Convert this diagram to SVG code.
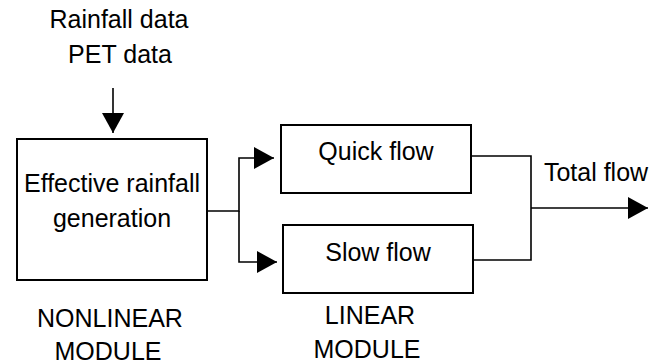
<svg xmlns="http://www.w3.org/2000/svg" width="661" height="364" viewBox="0 0 661 364">
  <defs>
    <marker id="arrow" markerUnits="userSpaceOnUse" markerWidth="21" markerHeight="22" refX="20" refY="11" orient="auto">
      <path d="M0,0 L20,11 L0,22 z" fill="#000"/>
    </marker>
    <style>
      .box { fill: #fff; stroke: #000; stroke-width: 2; }
      .wire { fill: none; stroke: #000; stroke-width: 1.6; }
      .lbl { font-family: "Liberation Sans", Arial, sans-serif; font-size: 25px; fill: #000; text-anchor: middle; }
    </style>
  </defs>
  <rect width="661" height="364" fill="#fff"/>

  <g id="inputs">
    <text class="lbl" x="119" y="28">Rainfall data</text>
    <text class="lbl" x="120" y="63">PET data</text>
  </g>

  <g id="nonlinear">
    <rect class="box" x="17" y="139" width="190" height="141"/>
    <text class="lbl" x="112" y="192">Effective rainfall</text>
    <text class="lbl" x="112" y="227">generation</text>
    <text class="lbl" x="110" y="327">NONLINEAR</text>
    <text class="lbl" x="108" y="360">MODULE</text>
  </g>

  <g id="quick">
    <rect class="box" x="281" y="125" width="190" height="68"/>
    <text class="lbl" x="376" y="160">Quick flow</text>
  </g>

  <g id="slow">
    <rect class="box" x="283" y="225" width="190" height="68"/>
    <text class="lbl" x="378" y="261">Slow flow</text>
  </g>

  <g id="linear-label">
    <text class="lbl" x="370" y="324">LINEAR</text>
    <text class="lbl" x="367" y="358">MODULE</text>
  </g>

  <g id="output-label">
    <text class="lbl" x="596" y="181">Total flow</text>
  </g>

  <g id="connectors">
    <path class="wire" d="M113,88 V133" marker-end="url(#arrow)"/>
    <path class="wire" d="M207,211 H239 V158 H274" marker-end="url(#arrow)"/>
    <path class="wire" d="M239,211 V262 H277" marker-end="url(#arrow)"/>
    <path class="wire" d="M471,156 H531 V260 H473"/>
    <path class="wire" d="M531,208 H648" marker-end="url(#arrow)"/>
  </g>
</svg>
